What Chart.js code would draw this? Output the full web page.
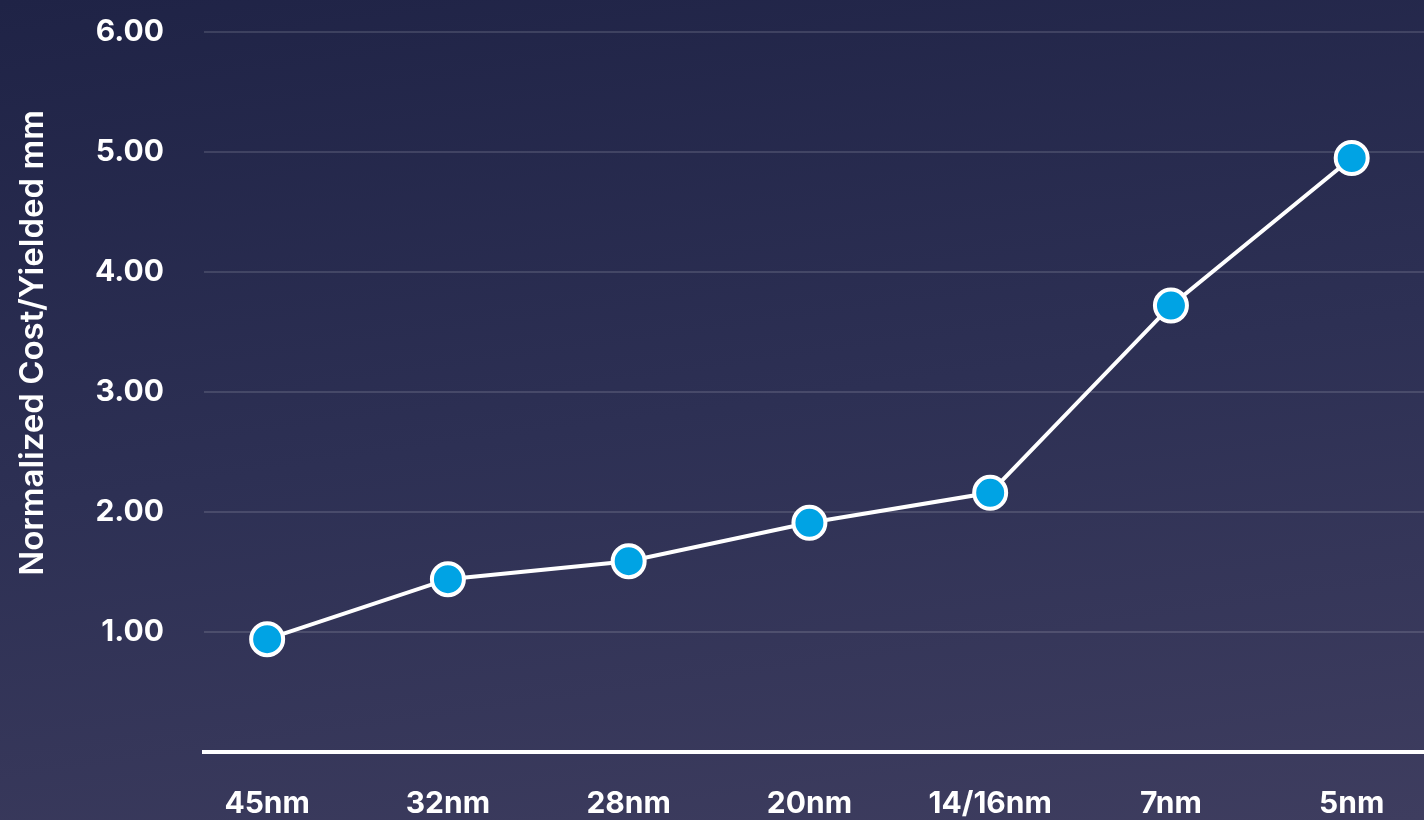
<!DOCTYPE html>
<html>
<head>
<meta charset="utf-8">
<script src="https://cdn.jsdelivr.net/npm/chart.js@4"></script>
<style>
  html, body { margin: 0; padding: 0; }
  body {
    width: 1424px; height: 820px; overflow: hidden; position: relative;
    background: linear-gradient(172deg, #1f2346 0%, #2d3054 50%, #3e3d5f 100%);
  }
  #wrap { position: absolute; left: 0; top: -26px; width: 1424px; height: 846px; }
</style>
</head>
<body>
<div id="wrap"><canvas id="grafico"></canvas></div>
<script>
const nodos = ["45nm", "32nm", "28nm", "20nm", "14/16nm", "7nm", "5nm"];
const costos = [0.94, 1.44, 1.59, 1.91, 2.16, 3.72, 4.95];
const ticksY = [1, 2, 3, 4, 5, 6];
const tituloY = "Normalized Cost/Yielded mm";

const fuente = "Inter, 'Noto Sans', sans-serif";

// titulo del eje Y dibujado a mano, va algo mas arriba que el centro del eje
// (el canvas esta corrido 26px hacia arriba)
const tituloEje = {
    id: "tituloEje",
    afterDraw(chart) {
        const ctx = chart.ctx;
        ctx.save();
        ctx.translate(33, 343 + 26);
        ctx.rotate(-Math.PI / 2);
        ctx.fillStyle = "#ffffff";
        ctx.font = "600 33px " + fuente;
        ctx.textAlign = "center";
        ctx.textBaseline = "middle";
        ctx.fillText(tituloY, 0, 0);
        ctx.restore();
    }
};

const ctx = document.getElementById("grafico").getContext("2d");

new Chart(ctx, {
    type: "line",
    data: {
        datasets: [{
            data: costos.map((c, i) => ({ x: i, y: c })),
            borderColor: "#ffffff",
            borderWidth: 4,
            pointRadius: 16,
            pointHoverRadius: 16,
            pointBackgroundColor: "#00a3e4",
            pointBorderColor: "#ffffff",
            pointBorderWidth: 4,
            fill: false,
            tension: 0
        }]
    },
    options: {
        responsive: true,
        maintainAspectRatio: false,
        animation: false,
        layout: { autoPadding: false, padding: { left: 55, top: 0, right: 0, bottom: -36 } },
        plugins: { legend: { display: false }, tooltip: { enabled: false } },
        scales: {
            x: {
                type: "linear",
                min: -0.35,
                max: 6.4,
                afterBuildTicks: axis => { axis.ticks = nodos.map((n, i) => ({ value: i })); },
                grid: { display: false, drawTicks: false },
                border: { display: true, color: "#ffffff", width: 4 },
                ticks: {
                    color: "#ffffff",
                    padding: 34,
                    maxRotation: 0,
                    font: { family: fuente, size: 30, weight: "700" },
                    callback: v => nodos[v]
                }
            },
            y: {
                min: 0,
                max: 6,
                afterBuildTicks: axis => { axis.ticks = ticksY.map(v => ({ value: v })); },
                grid: { color: "rgba(255,255,255,0.13)", lineWidth: 2, drawTicks: false },
                border: { display: false },
                ticks: {
                    color: "#ffffff",
                    padding: 40,
                    font: { family: fuente, size: 30, weight: "700" },
                    callback: v => v.toFixed(2)
                }
            }
        }
    },
    plugins: [tituloEje]
});
</script>
</body>
</html>
